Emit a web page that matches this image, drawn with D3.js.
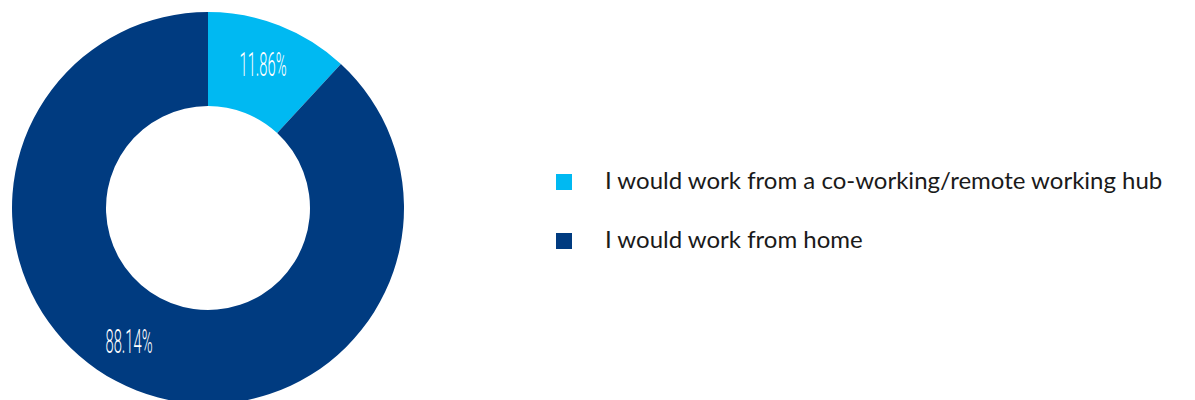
<!DOCTYPE html>
<html>
<head>
<meta charset="utf-8">
<script src="https://cdn.jsdelivr.net/npm/d3@7"></script>
<style>
  body { margin: 0; background: #fff; }
  svg { display: block; }
</style>
</head>
<body>
<div id="chart"></div>
<script>
var categories = ['I would work from a co-working/remote working hub', 'I would work from home']
var values = [11.86, 88.14]
var colors = ['#00b9f2', '#003b80']

var width = 1195, height = 400
var svg = d3.select('#chart').append('svg').attr('width', width).attr('height', height)

var cx = 208, cy = 208, outerR = 196, innerR = 102

var pie = d3.pie().sort(null).value(d => d)
var arcs = pie(values)
var arc = d3.arc().innerRadius(innerR).outerRadius(outerR)

var g = svg.append('g').attr('transform', 'translate(' + cx + ',' + cy + ')')

g.selectAll('path').data(arcs).enter().append('path')
  .attr('d', arc)
  .attr('fill', (d, i) => colors[i])

// label spots (baseline), picked by eye from the reference
var labelPos = [[55, -132], [-79, 145]]

g.selectAll('text.lab').data(arcs).enter().append('text')
  .attr('class', 'lab')
  .attr('x', (d, i) => labelPos[i][0])
  .attr('y', (d, i) => labelPos[i][1])
  .attr('text-anchor', 'middle')
  .attr('fill', '#fff')
  .style('font-family', 'Roboto, sans-serif')
  .style('font-weight', 300)
  .style('font-size', '34px')
  .attr('textLength', 47)
  .attr('lengthAdjust', 'spacingAndGlyphs')
  .text(d => d.value.toFixed(2) + '%')

var legend = svg.append('g').attr('transform', 'translate(556,174)')
var item = legend.selectAll('g').data(categories).enter().append('g')
  .attr('transform', (d, i) => 'translate(0,' + i * 59 + ')')

item.append('rect').attr('width', 16).attr('height', 16)
  .attr('fill', (d, i) => colors[i])

item.append('text')
  .attr('x', 49).attr('y', 15)
  .attr('fill', '#1a1a1a')
  .style('font-family', 'Lato, sans-serif')
  .style('font-size', '24px')
  .text(d => d)
</script>
</body>
</html>
